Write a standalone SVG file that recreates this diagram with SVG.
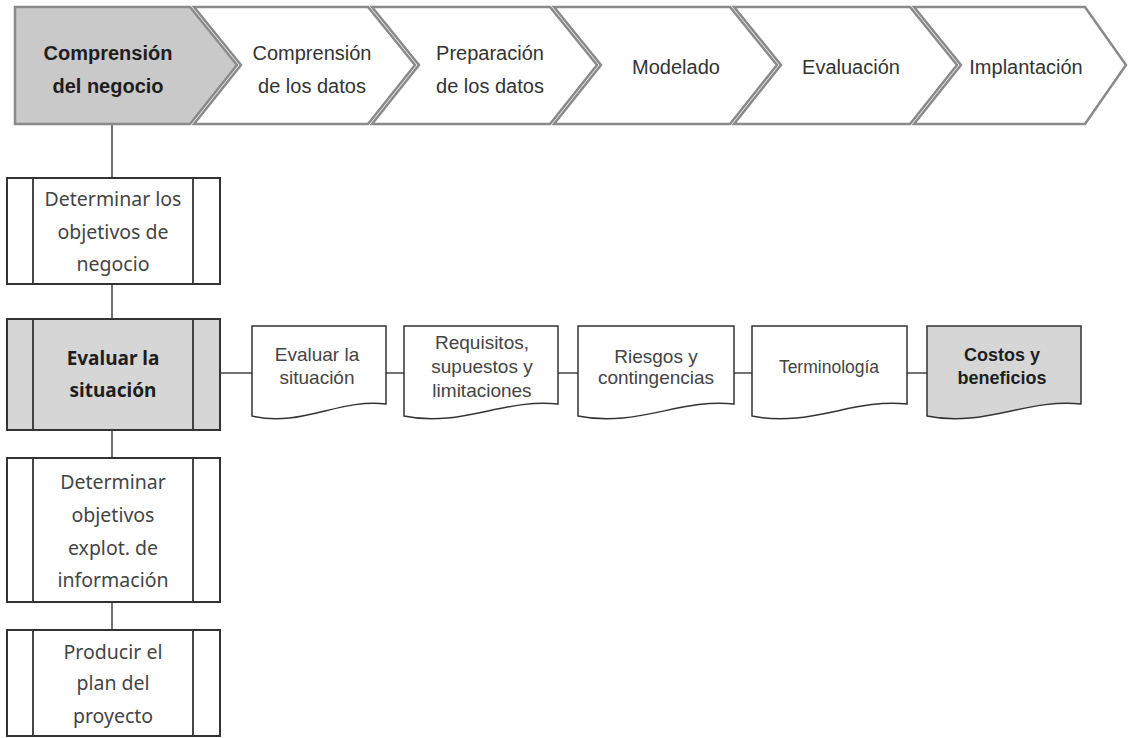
<svg xmlns="http://www.w3.org/2000/svg" width="1129" height="738" viewBox="0 0 1129 738">
<style>
.chev{fill:#fff;stroke:#8a8a8a;stroke-width:2.5;stroke-linejoin:miter}
.chev.active{fill:#c9c9c9}
.ct{font-family:"Liberation Sans",Arial,sans-serif;font-size:20px;fill:#333;text-anchor:middle}
.ct.b{font-weight:bold;fill:#1e1e1e}
.box{fill:#fff;stroke:#333;stroke-width:2}
.box.active{fill:#d6d6d6}
.in{stroke:#333;stroke-width:1.8}
.bt{font-family:"Noto Sans","Open Sans",sans-serif;font-size:19.5px;fill:#444;text-anchor:middle}
.bt.b{font-weight:bold;fill:#1e1e1e;font-size:19px}
.doc{fill:#fff;stroke:#333;stroke-width:1.5}
.doc.active{fill:#d6d6d6}
.dt{font-family:"Liberation Sans",Arial,sans-serif;font-size:19px;fill:#444;text-anchor:middle}
.dt.b{font-weight:bold;fill:#1e1e1e;font-size:18px}
.con{stroke:#444;stroke-width:1.5;fill:none}
</style>
<rect width="1129" height="738" fill="#fff"/>
<g id="connectors">
<line class="con" x1="112" y1="124" x2="112" y2="178"/>
<line class="con" x1="112" y1="284" x2="112" y2="319"/>
<line class="con" x1="112" y1="430" x2="112" y2="458"/>
<line class="con" x1="112" y1="602" x2="112" y2="630"/>
<line class="con" x1="220" y1="373" x2="252" y2="373"/>
<line class="con" x1="386" y1="373" x2="404" y2="373"/>
<line class="con" x1="558" y1="373" x2="578" y2="373"/>
<line class="con" x1="734" y1="373" x2="752" y2="373"/>
<line class="con" x1="907" y1="373" x2="927" y2="373"/>
</g>
<g id="phase1">
<polygon class="chev active" points="15,7 190,7 237,65 190,124 15,124"/>
<text class="ct b" x="108" y="60">Comprensión</text>
<text class="ct b" x="108" y="93">del negocio</text>
</g>
<g id="phase2">
<polygon class="chev" points="194,7 368,7 415,65 368,124 194,124 241,65"/>
<text class="ct" x="312" y="60">Comprensión</text>
<text class="ct" x="312" y="93">de los datos</text>
</g>
<g id="phase3">
<polygon class="chev" points="372,7 550,7 597,65 550,124 372,124 419,65"/>
<text class="ct" x="490" y="60">Preparación</text>
<text class="ct" x="490" y="93">de los datos</text>
</g>
<g id="phase4">
<polygon class="chev" points="554,7 730,7 777,65 730,124 554,124 601,65"/>
<text class="ct" x="676" y="74">Modelado</text>
</g>
<g id="phase5">
<polygon class="chev" points="734,7 910,7 957,65 910,124 734,124 781,65"/>
<text class="ct" x="851" y="74">Evaluación</text>
</g>
<g id="phase6">
<polygon class="chev" points="914,7 1085,7 1126,65 1085,124 914,124 961,65"/>
<text class="ct" x="1026" y="74">Implantación</text>
</g>
<g id="task1">
<rect class="box" x="7" y="178" width="213" height="106"/>
<line class="in" x1="33" y1="178" x2="33" y2="284"/>
<line class="in" x1="193" y1="178" x2="193" y2="284"/>
<text class="bt" x="113" y="206">Determinar los</text>
<text class="bt" x="113" y="239">objetivos de</text>
<text class="bt" x="113" y="271">negocio</text>
</g>
<g id="task2">
<rect class="box active" x="7" y="319" width="213" height="111"/>
<line class="in" x1="33" y1="319" x2="33" y2="430"/>
<line class="in" x1="193" y1="319" x2="193" y2="430"/>
<text class="bt b" x="113" y="365">Evaluar la</text>
<text class="bt b" x="113" y="397">situación</text>
</g>
<g id="task3">
<rect class="box" x="7" y="458" width="213" height="144"/>
<line class="in" x1="33" y1="458" x2="33" y2="602"/>
<line class="in" x1="193" y1="458" x2="193" y2="602"/>
<text class="bt" x="113" y="489">Determinar</text>
<text class="bt" x="113" y="522">objetivos</text>
<text class="bt" x="113" y="555">explot. de</text>
<text class="bt" x="113" y="587">información</text>
</g>
<g id="task4">
<rect class="box" x="7" y="630" width="213" height="106"/>
<line class="in" x1="33" y1="630" x2="33" y2="736"/>
<line class="in" x1="193" y1="630" x2="193" y2="736"/>
<text class="bt" x="113" y="659">Producir el</text>
<text class="bt" x="113" y="690">plan del</text>
<text class="bt" x="113" y="723">proyecto</text>
</g>
<g id="doc1">
<path class="doc" d="M252,326 H386 V404 C340,398 300,428 252,416 Z"/>
<text class="dt" x="317" y="361">Evaluar la</text>
<text class="dt" x="317" y="384">situación</text>
</g>
<g id="doc2">
<path class="doc" d="M404,326 H558 V404 C505,398 460,428 404,416 Z"/>
<text class="dt" x="482" y="349">Requisitos,</text>
<text class="dt" x="482" y="373">supuestos y</text>
<text class="dt" x="482" y="397">limitaciones</text>
</g>
<g id="doc3">
<path class="doc" d="M578,326 H734 V404 C681,398 636,428 578,416 Z"/>
<text class="dt" x="656" y="363">Riesgos y</text>
<text class="dt" x="656" y="384">contingencias</text>
</g>
<g id="doc4">
<path class="doc" d="M752,326 H907 V404 C854,398 809,428 752,416 Z"/>
<text class="dt" x="829" y="373" style="font-size:17.5px">Terminología</text>
</g>
<g id="doc5">
<path class="doc active" d="M927,326 H1081 V404 C1028,398 983,428 927,416 Z"/>
<text class="dt b" x="1002" y="361">Costos y</text>
<text class="dt b" x="1002" y="384">beneficios</text>
</g>
</svg>
